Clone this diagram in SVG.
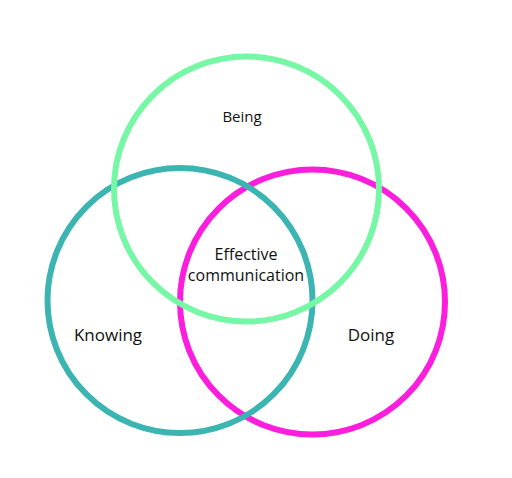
<svg xmlns="http://www.w3.org/2000/svg" width="512" height="478" viewBox="0 0 512 478">
<style>
.ring{fill:none;stroke-width:6}
.lbl{font-family:"Open Sans","Noto Sans",sans-serif;font-size:16px;fill:#111;text-anchor:middle}
</style>
<rect width="512" height="478" fill="#fff"/>
<g id="doing"><circle class="ring" cx="312.5" cy="302" r="132.5" stroke="#FC1EDD"/></g>
<g id="knowing"><circle class="ring" cx="180" cy="300.5" r="132.5" stroke="#3CB4B2"/></g>
<g id="being"><circle class="ring" cx="246.5" cy="189" r="132.5" stroke="#76F7A5"/></g>
<g id="labels">
<text class="lbl" x="242" y="122" style="font-size:15px">Being</text>
<text class="lbl" x="246" y="260">Effective</text>
<text class="lbl" x="246" y="281">communication</text>
<text class="lbl" x="108" y="341" style="font-size:17px">Knowing</text>
<text class="lbl" x="371" y="341" style="font-size:17px">Doing</text>
</g>
</svg>
